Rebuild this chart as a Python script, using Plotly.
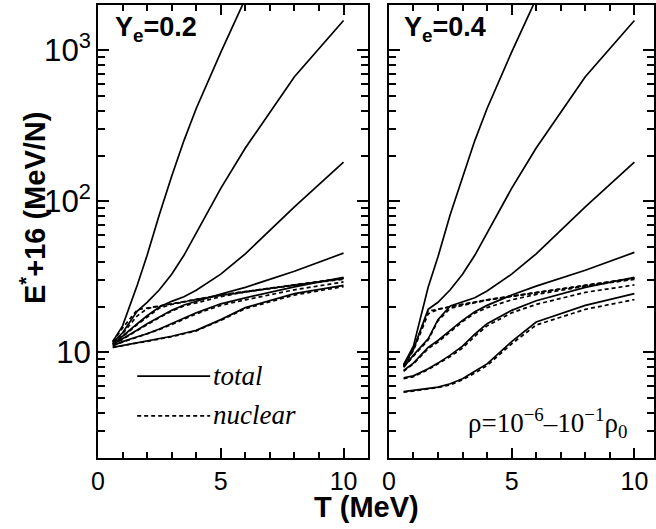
import math
import plotly.graph_objects as go

# Temperature grid (MeV)
T = [0.6, 1.0, 1.6, 2.0, 2.5, 3.0, 3.5, 4.0, 5.0, 6.0, 8.0, 10.0]

# density labels, rho / rho0
densities = ["1e-6", "1e-5", "1e-4", "1e-3", "1e-2", "1e-1"]

# E*+16 (MeV/N), Ye = 0.2, one row per density
ye02_total = [
    [11.8, 15.0, 28.0, 44.0, 82.0, 147.0, 253.0, 413.0, 970.0, 2200.0, None, None],
    [11.6, 13.5, 18.8, 21.5, 26.0, 33.0, 44.0, 62.0, 122.0, 226.0, 670.0, 1580.0],
    [11.4, 12.8, 15.5, 17.5, 20.0, 21.8, 23.4, 25.8, 33.0, 45.0, 92.0, 182.0],
    [11.3, 12.3, 14.1, 15.5, 17.2, 19.0, 20.6, 21.8, 24.4, 27.0, 34.5, 45.5],
    [11.1, 11.8, 12.7, 13.3, 14.3, 15.5, 16.9, 18.3, 21.0, 23.0, 27.2, 31.5],
    [10.8, 11.1, 11.6, 11.9, 12.3, 12.8, 13.4, 14.0, 16.5, 19.8, 24.5, 27.8],
]
ye02_nuclear = [
    [11.8, 14.5, 19.2, 19.6, 20.3, 21.0, 21.7, 22.5, 24.0, 25.3, 28.0, 31.0],
    [11.6, 13.3, 17.5, 19.5, 20.3, 21.0, 21.7, 22.5, 24.0, 25.3, 28.0, 31.0],
    [11.4, 12.7, 15.3, 17.2, 19.7, 20.8, 21.6, 22.4, 23.9, 25.2, 27.9, 30.8],
    [11.3, 12.2, 14.0, 15.3, 17.0, 18.8, 20.3, 21.3, 23.4, 25.2, 28.0, 30.5],
    [11.1, 11.7, 12.6, 13.2, 14.2, 15.3, 16.7, 18.0, 20.5, 22.3, 26.0, 29.3],
    [10.8, 11.05, 11.55, 11.85, 12.25, 12.7, 13.3, 13.9, 16.3, 19.5, 24.0, 27.3],
]

# E*+16 (MeV/N), Ye = 0.4, one row per density
ye04_total = [
    [8.3, 11.0, 27.0, 43.0, 82.0, 145.0, 253.0, 413.0, 975.0, 2200.0, None, None],
    [8.2, 10.5, 19.3, 21.5, 26.0, 33.0, 44.0, 62.0, 122.0, 226.0, 670.0, 1580.0],
    [8.0, 9.6, 12.3, 16.5, 20.3, 21.5, 23.0, 25.5, 33.0, 45.0, 92.0, 182.0],
    [7.6, 8.5, 10.8, 12.0, 14.0, 16.3, 18.6, 20.5, 24.0, 27.5, 35.0, 46.0],
    [6.8, 7.0, 7.8, 8.5, 9.6, 11.0, 13.2, 15.5, 19.0, 22.0, 27.0, 31.5],
    [5.5, 5.6, 5.75, 5.9, 6.2, 6.7, 7.5, 8.4, 11.8, 15.9, 20.5, 24.5],
]
ye04_nuclear = [
    [8.2, 10.5, 18.8, 19.4, 20.1, 20.8, 21.5, 22.3, 23.6, 25.0, 27.8, 31.0],
    [8.1, 10.3, 18.0, 19.3, 20.1, 20.8, 21.5, 22.3, 23.6, 25.0, 27.8, 31.0],
    [8.0, 9.5, 12.1, 16.2, 19.6, 20.5, 21.3, 22.2, 23.5, 24.9, 27.7, 30.8],
    [7.5, 8.4, 10.6, 11.7, 13.7, 16.0, 18.2, 19.8, 22.3, 24.2, 27.5, 30.5],
    [6.7, 6.9, 7.7, 8.4, 9.4, 10.7, 12.8, 15.0, 18.3, 20.8, 25.0, 28.0],
    [5.45, 5.55, 5.7, 5.85, 6.1, 6.6, 7.3, 8.2, 11.4, 15.2, 19.3, 22.4],
]

panel_labels = ["Y<sub>e</sub>=0.2", "Y<sub>e</sub>=0.4"]

W, H = 656, 529
SANS = "Liberation Sans, Arial, sans-serif"
SERIF = "Liberation Serif, Times New Roman, serif"

fig = go.Figure()

def add_panel(total, nuclear, xa, ya):
    for rows, dash in ((nuclear, "4px,3px"), (total, "solid")):
        for name, vals in zip(densities, rows):
            fig.add_trace(go.Scatter(
                x=T, y=vals, xaxis=xa, yaxis=ya, mode="lines",
                line=dict(color="black", width=1.7, dash=dash),
                name=name, showlegend=False, connectgaps=False,
            ))

add_panel(ye02_total, ye02_nuclear, "x", "y")
add_panel(ye04_total, ye04_nuclear, "x2", "y2")

# small outer margins; panel positions are set through the axis domains
ML, MR, MT, MB = 2, 0, 2, 2
PW, PH = W - ML - MR, H - MT - MB

def dom_x(a, b):
    return [(a - ML) / PW, min(1.0, (b - ML) / PW)]

def dom_y(top, bottom):
    return [(H - MB - bottom) / PH, (H - MB - top) / PH]

px_per_unit = (367 - 94) / 11.0
xdom1 = dom_x(94, 367)
xdom2 = dom_x(388, W)
xrng1 = [0, 11]
xrng2 = [0, (W - 388) / px_per_unit]
ydom = dom_y(5, 458)
tick_font = dict(family=SANS, size=25, color="black")

x_common = dict(
    showline=True, linecolor="black", linewidth=2, mirror="allticks",
    ticks="inside", ticklen=10, tickwidth=2, tickcolor="black",
    tick0=0, dtick=5,
    minor=dict(ticks="inside", ticklen=6, tickwidth=1.8, tickcolor="black", dtick=1),
    showgrid=False, zeroline=False, tickfont=tick_font,
)
y_common = dict(
    type="log", range=[math.log10(2), math.log10(2000)],
    showline=True, linecolor="black", linewidth=2, mirror="allticks",
    ticks="inside", ticklen=11, tickwidth=2, tickcolor="black",
    dtick=1, exponentformat="power",
    minor=dict(ticks="inside", ticklen=7, tickwidth=1.8, tickcolor="black", dtick="D1"),
    showgrid=False, zeroline=False, tickfont=tick_font, domain=ydom,
)

fig.update_layout(
    width=W, height=H,
    margin=dict(l=ML, r=MR, t=MT, b=MB, pad=0),
    paper_bgcolor="white", plot_bgcolor="white",
    showlegend=False,
    xaxis=dict(x_common, domain=xdom1, range=xrng1, anchor="y"),
    xaxis2=dict(x_common, domain=xdom2, range=xrng2, anchor="y2"),
    yaxis=dict(y_common, anchor="x"),
    yaxis2=dict(y_common, anchor="x2", showticklabels=False),
)

def px(x, y):
    return x / W, 1 - y / H

ann = []
# panel labels
for (x0, label) in ((107, panel_labels[0]), (401, panel_labels[1])):
    ax, ay = px(x0, 27)
    ann.append(dict(x=ax, y=ay, xref="paper", yref="paper", text="<b>" + label + "</b>",
                    showarrow=False, xanchor="left", yanchor="middle",
                    font=dict(family=SANS, size=27, color="black")))
# legend texts
for (yy, txt) in ((377, "<i>total</i>"), (416, "<i>nuclear</i>")):
    ax, ay = px(207, yy)
    ann.append(dict(x=ax, y=ay, xref="paper", yref="paper", text=txt, showarrow=False,
                    xanchor="left", yanchor="middle",
                    font=dict(family=SERIF, size=27, color="black")))
# density range note
ax, ay = px(631, 424)
ann.append(dict(x=ax, y=ay, xref="paper", yref="paper",
                text="\u03c1=10<sup>\u22126</sup>\u201310<sup>\u22121</sup>\u03c1<sub>0</sub>",
                showarrow=False, xanchor="right", yanchor="middle",
                font=dict(family=SERIF, size=27, color="black")))
# axis titles
ax, ay = px(27, 208)
ann.append(dict(x=ax, y=ay, xref="paper", yref="paper", text="<b>E<sup>*</sup>+16 (MeV/N)</b>",
                showarrow=False, textangle=-90, xanchor="center", yanchor="middle",
                font=dict(family=SANS, size=29, color="black")))
ax, ay = px(365, 509)
ann.append(dict(x=ax, y=ay, xref="paper", yref="paper", text="<b>T (MeV)</b>",
                showarrow=False, xanchor="center", yanchor="middle",
                font=dict(family=SANS, size=29, color="black")))
fig.update_layout(annotations=ann)

# legend line samples
shapes = []
for (yy, dash) in ((377, "solid"), (417, "4px,3px")):
    x0, y0 = px(132, yy)
    x1, _ = px(206, yy)
    shapes.append(dict(type="line", xref="paper", yref="paper", x0=x0, x1=x1, y0=y0, y1=y0,
                       line=dict(color="black", width=1.7, dash=dash)))
fig.update_layout(shapes=shapes)

fig.write_html("out.html")
